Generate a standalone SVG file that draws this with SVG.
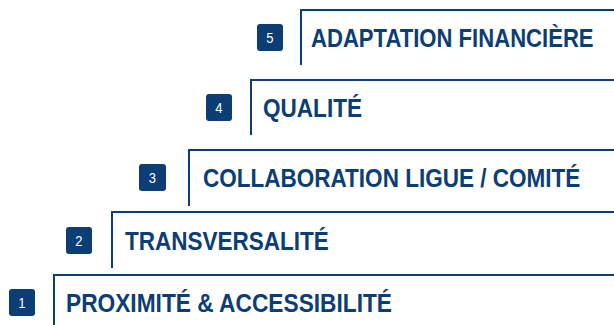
<svg xmlns="http://www.w3.org/2000/svg" width="614" height="325" viewBox="0 0 614 325">
<style>
.step{fill:none;stroke:#0b3e74;stroke-width:2}
.badge{fill:#0b3e74}
.num{fill:#fff;font-family:"Liberation Sans",Arial,sans-serif;font-size:15px;text-anchor:middle}
.lbl{fill:#0b3e74;font-family:"Liberation Sans",Arial,sans-serif;font-weight:bold;font-size:26px}
</style>
<rect width="614" height="325" fill="#fff"/>
<g id="connectors">
<path class="step" d="M54,325 V275 H614"/>
<path class="step" d="M112,268 V212 H614"/>
<path class="step" d="M189,206 V150 H614"/>
<path class="step" d="M251,135 V80 H614"/>
<path class="step" d="M301,65 V10 H614"/>
</g>
<g id="step1">
<rect class="badge" x="9" y="289" width="26" height="27" rx="3"/>
<text class="num" transform="translate(22,308) scale(0.87,1)">1</text>
<text class="lbl" transform="translate(66,312) scale(0.874,1)">PROXIMITÉ &amp; ACCESSIBILITÉ</text>
</g>
<g id="step2">
<rect class="badge" x="66" y="227" width="26" height="27" rx="3"/>
<text class="num" transform="translate(79,246) scale(0.87,1)">2</text>
<text class="lbl" transform="translate(125,250) scale(0.866,1)">TRANSVERSALITÉ</text>
</g>
<g id="step3">
<rect class="badge" x="139" y="164" width="27" height="27" rx="3"/>
<text class="num" transform="translate(152.5,183) scale(0.87,1)">3</text>
<text class="lbl" transform="translate(203,187) scale(0.866,1)">COLLABORATION LIGUE / COMITÉ</text>
</g>
<g id="step4">
<rect class="badge" x="206" y="94" width="26" height="27" rx="3"/>
<text class="num" transform="translate(219,113) scale(0.87,1)">4</text>
<text class="lbl" transform="translate(263,117) scale(0.868,1)">QUALITÉ</text>
</g>
<g id="step5">
<rect class="badge" x="257" y="24" width="26" height="27" rx="3"/>
<text class="num" transform="translate(270,43) scale(0.87,1)">5</text>
<text class="lbl" transform="translate(311,47) scale(0.85,1)">ADAPTATION FINANCIÈRE</text>
</g>
</svg>
